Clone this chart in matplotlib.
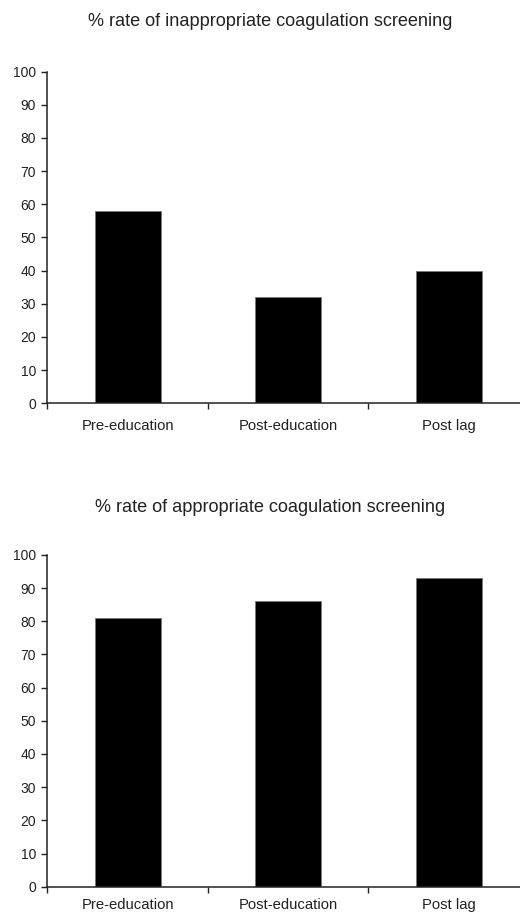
import matplotlib
matplotlib.use("Agg")
from matplotlib import pyplot as plt

# data
categories = ["Pre-education", "Post-education", "Post lag"]
inappropriate_rate = [58, 32, 40]
appropriate_rate = [81, 86, 93]
titles = ["% rate of inappropriate coagulation screening",
          "% rate of appropriate coagulation screening"]
y_ticks = list(range(0, 101, 10))

plt.rcParams['font.family'] = ['Liberation Sans', 'DejaVu Sans']


def draw_panel(ax, values, label_pad):
    positions = range(len(categories))
    ax.bar(positions, values, width=0.41, color="black", edgecolor="#777777", linewidth=0.6)
    ax.set_ylim(0, 100)
    ax.set_xlim(-0.5, len(categories) - 0.5)
    ax.set_yticks(y_ticks)
    ax.set_xticks(list(positions))
    ax.set_xticklabels(categories)
    # category boundary ticks, like excel
    ax.set_xticks([i - 0.5 for i in range(len(categories) + 1)], minor=True)
    ax.tick_params(axis='x', which='major', length=0, pad=label_pad, labelsize=10.7, colors="#222222")
    ax.tick_params(axis='x', which='minor', length=4, width=1, direction='out', color="#222222")
    ax.tick_params(axis='y', length=4, width=1, direction='out', pad=4, labelsize=10, colors="#222222")
    for side in ['top', 'right']:
        ax.spines[side].set_visible(False)
    for side in ['left', 'bottom']:
        ax.spines[side].set_color("#222222")
        ax.spines[side].set_linewidth(1.1)


fig = plt.figure(figsize=(5.2, 9.14), dpi=100)
ax_top = fig.add_axes([0.091, 0.5588, 0.9263, 0.3628])
ax_bottom = fig.add_axes([0.091, 0.0299, 0.9263, 0.3629])

draw_panel(ax_top, inappropriate_rate, 11.5)
# bottom labels sit right on the figure edge, keep them just inside
draw_panel(ax_bottom, appropriate_rate, 8)

fig.text(270 / 520, 1 - 22 / 914, titles[0], ha='center', va='center', fontsize=13.1, color="#222222")
fig.text(270 / 520, 1 - 507 / 914, titles[1], ha='center', va='center', fontsize=13.1, color="#222222")

fig.savefig("out.png", dpi=100)
